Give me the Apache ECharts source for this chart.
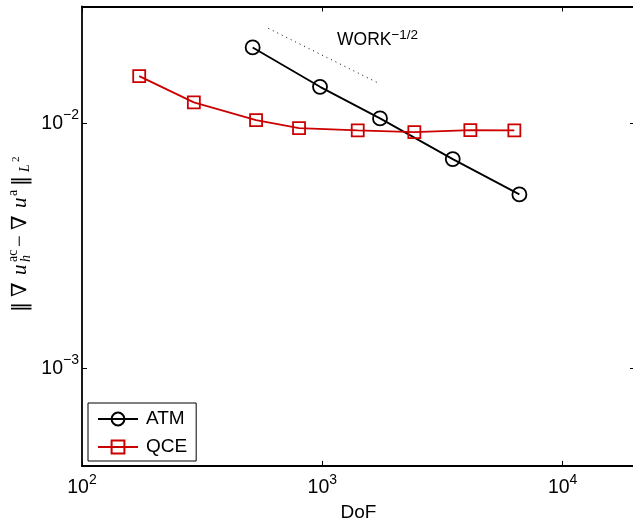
<!DOCTYPE html>
<html>
<head>
<meta charset="utf-8">
<script src="https://cdn.jsdelivr.net/npm/echarts@6/dist/echarts.min.js"></script>
<style>
  html, body { margin: 0; padding: 0; background: #fff; }
  #chart { width: 633px; height: 521px; }
</style>
</head>
<body>
<div id="chart"></div>
<script>
// Error of the atomistic (ATM) and quasicontinuum (QCE) solutions vs degrees of freedom
const atmDof = [513, 978, 1738, 3489, 6607];
const atmErr = [0.02042, 0.01410, 0.01048, 0.007149, 0.005131];
const qceDof = [173, 292, 530, 800, 1404, 2415, 4130, 6295];
const qceErr = [0.01560, 0.01218, 0.01031, 0.00957, 0.00936, 0.00922, 0.00939, 0.00936];
// reference slope segment, WORK^(-1/2)
const slopeDof = [596, 1700];
const slopeErr = [0.02443, 0.01465];

const xTicks = [1e2, 1e3, 1e4];
const yTicks = [1e-3, 1e-2];
const xRange = [1e2, 2e4];
const yRange = [4e-4, 3e-2];

const SANS = '"Liberation Sans", Arial, Helvetica, sans-serif';
const SERIF = '"Liberation Serif", "DejaVu Serif", serif';
const SYM = '"DejaVu Serif", serif';

function powLabel(v) {
  const e = Math.round(Math.log10(v));
  return '{b|10}{s|' + (e < 0 ? '\u2212' + (-e) : e) + '}';
}
const powRich = {
  b: { fontFamily: SANS, fontSize: 19.5, lineHeight: 30, color: '#000' },
  s: { fontFamily: SANS, fontSize: 14, lineHeight: 13, verticalAlign: 'top', color: '#000' }
};

const pair = (xs, ys) => xs.map((x, i) => [x, ys[i]]);

const axisLineStyle = { color: '#000', width: 1.8 };
const tickStyle = { color: '#000', width: 1 };

const chart = echarts.init(document.getElementById('chart'), null, { renderer: 'canvas' });

// y-axis title: ||grad u_h^ac - grad u^a||_{L^2}, laid out along a rotated baseline
function yTitleChildren() {
  const it = 'italic 21px ' + SERIF;
  const up = '21px ' + SERIF;
  const sym = '20px ' + SYM;
  const small = '14px ' + SERIF;
  const smallIt = 'italic 14px ' + SERIF;
  const t = (x, y, text, font) => ({
    type: 'text', x: x, y: y,
    style: { text: text, font: font, fill: '#000', verticalAlign: 'middle', align: 'left' }
  });
  return [
    t(1, 0, '\u2016', sym),
    t(16, 0, '\u2207', up),
    t(38, 0, 'u', it),
    t(51, -7, 'ac', small),
    t(51, 6, 'h', smallIt),
    t(66, 0, '\u2212', up),
    t(83, 0, '\u2207', up),
    t(105, 0, 'u', it),
    t(117, -7, 'a', small),
    t(127, 0, '\u2016', sym),
    t(141, 5, 'L', smallIt),
    t(151, -4, '2', '11px ' + SERIF)
  ];
}

const option = {
  backgroundColor: '#fff',
  animation: false,
  grid: {
    left: 82, top: 6.5, width: 553, height: 459.4,
    containLabel: false, outerBoundsMode: 'none'
  },
  xAxis: [
    {
      type: 'log', logBase: 10, min: xRange[0], max: xRange[1],
      position: 'bottom',
      axisLine: { show: true, lineStyle: axisLineStyle },
      axisTick: { show: true, inside: true, length: 5, customValues: xTicks, lineStyle: tickStyle },
      minorTick: { show: false },
      axisLabel: { customValues: xTicks, formatter: powLabel, rich: powRich, margin: 7 },
      splitLine: { show: false },
      name: 'DoF', nameLocation: 'middle', nameGap: 37,
      nameTextStyle: { fontFamily: SANS, fontSize: 19, color: '#000' }
    },
    {
      type: 'log', logBase: 10, min: xRange[0], max: xRange[1],
      position: 'top',
      axisLine: { show: true, lineStyle: axisLineStyle },
      axisTick: { show: true, inside: true, length: 5, customValues: xTicks, lineStyle: tickStyle },
      axisLabel: { show: false },
      splitLine: { show: false }
    }
  ],
  yAxis: [
    {
      type: 'log', logBase: 10, min: yRange[0], max: yRange[1],
      position: 'left',
      axisLine: { show: true, lineStyle: axisLineStyle },
      axisTick: { show: true, inside: true, length: 5, customValues: yTicks, lineStyle: tickStyle },
      axisLabel: { customValues: yTicks, formatter: powLabel, rich: powRich, margin: 3 },
      splitLine: { show: false }
    },
    {
      type: 'log', logBase: 10, min: yRange[0], max: yRange[1],
      position: 'right',
      axisLine: { show: true, lineStyle: axisLineStyle },
      axisTick: { show: true, inside: true, length: 5, customValues: yTicks, lineStyle: tickStyle },
      axisLabel: { show: false },
      splitLine: { show: false }
    }
  ],
  legend: {
    data: ['ATM', 'QCE'],
    orient: 'vertical',
    left: 88, top: 403,
    padding: [6, 9, 4, 9],
    itemGap: 8,
    itemWidth: 40, itemHeight: 16,
    borderColor: '#000', borderWidth: 1,
    backgroundColor: '#fff',
    textStyle: { fontFamily: SANS, fontSize: 19, lineHeight: 20, color: '#000', padding: [0, 0, 0, 3] }
  },
  series: [
    {
      name: 'slope', type: 'line', xAxisIndex: 0, yAxisIndex: 0,
      data: pair(slopeDof, slopeErr),
      symbol: 'none', silent: true,
      lineStyle: { color: '#000', width: 1, type: [1, 4] }
    },
    {
      name: 'ATM', type: 'line', xAxisIndex: 0, yAxisIndex: 0,
      data: pair(atmDof, atmErr),
      symbol: 'circle', symbolSize: 14,
      lineStyle: { color: '#000', width: 1.8 },
      itemStyle: { color: 'rgba(255,255,255,0)', borderColor: '#000', borderWidth: 1.8 }
    },
    {
      name: 'QCE', type: 'line', xAxisIndex: 0, yAxisIndex: 0,
      data: pair(qceDof, qceErr),
      symbol: 'rect', symbolSize: 12,
      lineStyle: { color: '#cc0000', width: 1.8 },
      itemStyle: { color: 'rgba(255,255,255,0)', borderColor: '#cc0000', borderWidth: 1.8 }
    }
  ],
  graphic: [
    {
      type: 'text', left: 337, top: 28,
      style: {
        text: '{w|WORK}{s|\u22121/2}',
        rich: {
          w: { fontFamily: SANS, fontSize: 17.5, lineHeight: 25, color: '#000' },
          s: { fontFamily: SANS, fontSize: 13.5, lineHeight: 12, verticalAlign: 'top', color: '#000' }
        }
      }
    },
    {
      type: 'group', x: 20.5, y: 313, rotation: Math.PI / 2,
      children: yTitleChildren()
    }
  ]
};

chart.setOption(option);
</script>
</body>
</html>
